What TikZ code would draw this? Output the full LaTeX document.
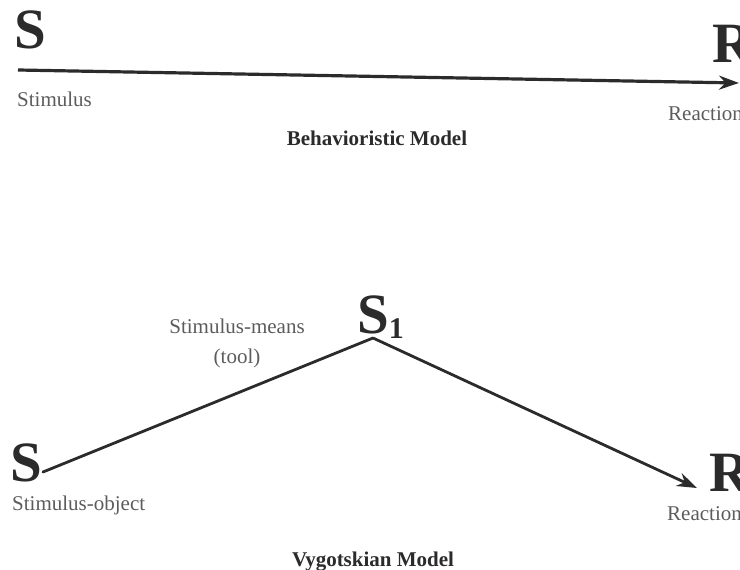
\documentclass[tikz,border=0pt]{standalone}
\usepackage{fontspec}
\setmainfont{Liberation Serif}
\usetikzlibrary{arrows.meta}
\definecolor{ink}{HTML}{2B2B2B}
\definecolor{muted}{HTML}{5C5C5C}
\tikzset{>={Stealth[length=20pt,width=14pt]},
  letter/.style={font=\fontsize{57}{57}\selectfont\bfseries,text=ink,inner sep=0pt,anchor=base west},
  caption/.style={font=\fontsize{21}{21}\selectfont,text=muted,inner sep=0pt,anchor=base west},
  title/.style={font=\fontsize{21}{21}\selectfont\bfseries,text=ink,inner sep=0pt,anchor=base},
  link/.style={draw=ink,line width=2.8pt}}
\begin{document}
\begin{tikzpicture}[x=1pt,y=-1pt]
\useasboundingbox (0,0) rectangle (740,570);\clip (0,0) rectangle (740,570);

% behavioristic model
\node[letter] (S) at (14,48) {S};\node[letter] (R) at (712,63) {R};
\coordinate (Sout) at (18,70);\coordinate (Rin) at (739,83);
\draw[link,line width=3.2pt,->] (Sout)--(Rin);
\node[caption] (stim) at (17,106) {Stimulus};\node[caption] (react) at (668,120) {Reaction};
\node[title] (behav) at (377,145) {Behavioristic Model};

% vygotskian model
\node[letter] (S0) at (10,481) {S};
\node[letter] (S1) at (357,333) {S\raisebox{-5pt}{\fontsize{30}{30}\selectfont 1}};
\node[letter] (R1) at (709,491) {R};
\coordinate (S0out) at (43,472);\coordinate (apex) at (373,338);\coordinate (R1in) at (697,488);
\draw[link,line cap=round] (S0out)--(apex);\draw[link,->] (apex)--(R1in);
\node[caption,anchor=base] (means) at (237,333) {Stimulus-means};
\node[caption,anchor=base] (tool) at (237,363) {(tool)};
\node[caption] (obj) at (12,510) {Stimulus-object};\node[caption] (react1) at (667,520) {Reaction};
\node[title] (vyg) at (373,566) {Vygotskian Model};
\end{tikzpicture}
\end{document}
